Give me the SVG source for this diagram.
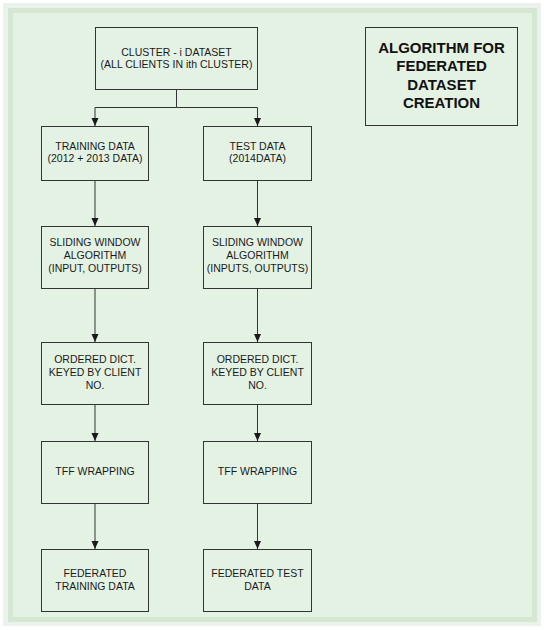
<svg xmlns="http://www.w3.org/2000/svg" width="545" height="630" viewBox="0 0 545 630">
<defs>
<style>
.box{fill:#e4f2e4;stroke:#333333;stroke-width:1}
.t{font-family:"Liberation Sans",Arial,sans-serif;font-size:10.5px;fill:#1a1a1a;text-anchor:middle}
.title{font-family:"Liberation Sans",Arial,sans-serif;font-size:15px;font-weight:bold;fill:#111111;text-anchor:middle}
.c{fill:none;stroke:#333333;stroke-width:1}
</style>
<marker id="arr" viewBox="0 0 8 8" refX="8" refY="4" markerWidth="8" markerHeight="8" markerUnits="userSpaceOnUse" orient="auto">
<path d="M0,0.5 L8,4 L0,7.5 Z" fill="#1a1a1a"/>
</marker>
</defs>
<rect x="0" y="0" width="545" height="630" fill="#ffffff"/>
<rect x="3" y="3" width="538" height="623" fill="#ebf1eb"/>
<rect x="10.5" y="10.5" width="524" height="609" fill="#e4f2e4" stroke="#d3e7d2" stroke-width="5"/>

<g id="connectors">
<path class="c" d="M176.5,90 V107.5 H95 V126" marker-end="url(#arr)"/>
<path class="c" d="M176.5,107.5 H257.5 V126" marker-end="url(#arr)"/>
<path class="c" d="M95,181 V226" marker-end="url(#arr)"/>
<path class="c" d="M257.5,181 V226" marker-end="url(#arr)"/>
<path class="c" d="M95,289 V342" marker-end="url(#arr)"/>
<path class="c" d="M257.5,289 V342" marker-end="url(#arr)"/>
<path class="c" d="M95,405 V441" marker-end="url(#arr)"/>
<path class="c" d="M257.5,405 V441" marker-end="url(#arr)"/>
<path class="c" d="M95,504 V549" marker-end="url(#arr)"/>
<path class="c" d="M257.5,504 V549" marker-end="url(#arr)"/>
</g>

<g id="cluster">
<rect class="box" x="95.5" y="27.5" width="162" height="62"/>
<text class="t" x="176.5" y="55.5">CLUSTER - i DATASET</text>
<text class="t" x="176.5" y="68">(ALL CLIENTS IN ith CLUSTER)</text>
</g>

<g id="title">
<rect class="box" x="365.5" y="27.5" width="152" height="98"/>
<text class="title" x="441.5" y="52.5">ALGORITHM FOR</text>
<text class="title" x="441.5" y="71">FEDERATED</text>
<text class="title" x="441.5" y="89.5">DATASET</text>
<text class="title" x="441.5" y="107.5">CREATION</text>
</g>

<g id="training">
<rect class="box" x="41.5" y="126.5" width="107" height="54"/>
<text class="t" x="95" y="149.5">TRAINING DATA</text>
<text class="t" x="95" y="161.5">(2012 + 2013 DATA)</text>
</g>

<g id="test">
<rect class="box" x="203.5" y="126.5" width="108" height="54"/>
<text class="t" x="257.5" y="149.5">TEST DATA</text>
<text class="t" x="257.5" y="161.5">(2014DATA)</text>
</g>

<g id="sliding-train">
<rect class="box" x="41.5" y="226.5" width="107" height="62"/>
<text class="t" x="95" y="246">SLIDING WINDOW</text>
<text class="t" x="95" y="259">ALGORITHM</text>
<text class="t" x="95" y="272">(INPUT, OUTPUTS)</text>
</g>

<g id="sliding-test">
<rect class="box" x="203.5" y="226.5" width="108" height="62"/>
<text class="t" x="257.5" y="246">SLIDING WINDOW</text>
<text class="t" x="257.5" y="259">ALGORITHM</text>
<text class="t" x="257.5" y="272">(INPUTS, OUTPUTS)</text>
</g>

<g id="ordered-train">
<rect class="box" x="41.5" y="342.5" width="107" height="62"/>
<text class="t" x="95" y="363">ORDERED DICT.</text>
<text class="t" x="95" y="376">KEYED BY CLIENT</text>
<text class="t" x="95" y="389">NO.</text>
</g>

<g id="ordered-test">
<rect class="box" x="203.5" y="342.5" width="108" height="62"/>
<text class="t" x="257.5" y="363">ORDERED DICT.</text>
<text class="t" x="257.5" y="376">KEYED BY CLIENT</text>
<text class="t" x="257.5" y="389">NO.</text>
</g>

<g id="tff-train">
<rect class="box" x="41.5" y="441.5" width="107" height="62"/>
<text class="t" x="95" y="475">TFF WRAPPING</text>
</g>

<g id="tff-test">
<rect class="box" x="203.5" y="441.5" width="108" height="62"/>
<text class="t" x="257.5" y="475">TFF WRAPPING</text>
</g>

<g id="fed-train">
<rect class="box" x="41.5" y="549.5" width="107" height="62"/>
<text class="t" x="95" y="577">FEDERATED</text>
<text class="t" x="95" y="590">TRAINING DATA</text>
</g>

<g id="fed-test">
<rect class="box" x="203.5" y="549.5" width="108" height="62"/>
<text class="t" x="257.5" y="577">FEDERATED TEST</text>
<text class="t" x="257.5" y="590">DATA</text>
</g>
</svg>
